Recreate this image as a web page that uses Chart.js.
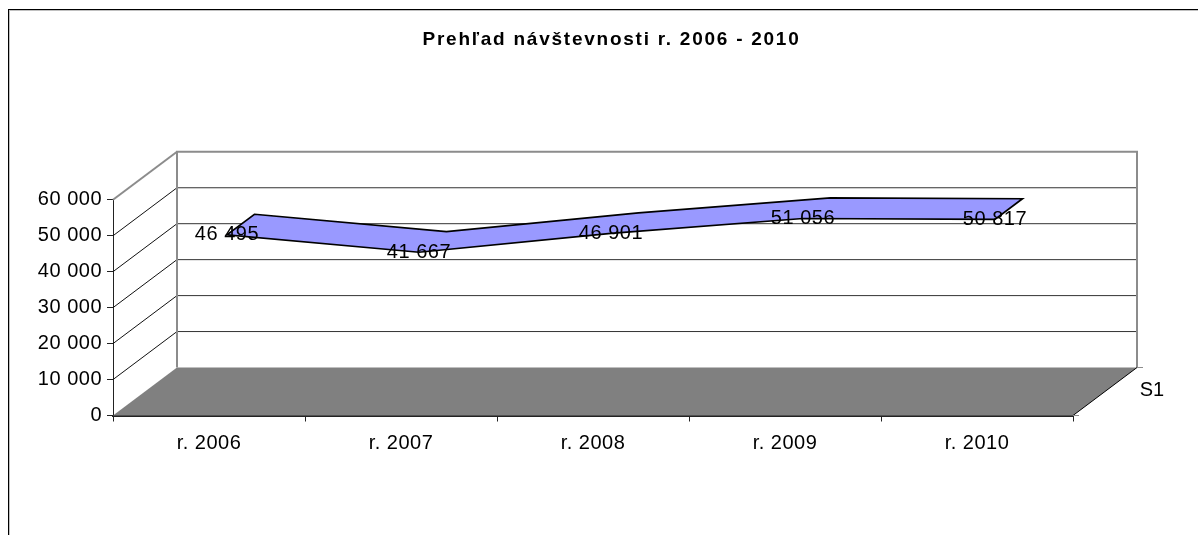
<!DOCTYPE html>
<html><head><meta charset="utf-8">
<style>html,body{margin:0;padding:0;background:#fff}canvas{display:block}</style>
<script src="https://cdn.jsdelivr.net/npm/chart.js@4/dist/chart.umd.min.js"></script>
</head><body><canvas id="c" width="1198" height="535"></canvas>
<script>
const titleText = "Prehľad návštevnosti r. 2006 - 2010";
const categories = ["r. 2006", "r. 2007", "r. 2008", "r. 2009", "r. 2010"];
const seriesName = "S1";
const visits = [46495, 41667, 46901, 51056, 50817];
const FONT = '"Liberation Sans", Arial, sans-serif';
const fmt = v => String(v).replace(/\B(?=(\d{3})+$)/g, " ");
// 3D projection of the depth axis, in pixels, and the ribbon's place in that depth
const DEPTH = {dx: 64, dy: -48};
const RIBBON = {front: 0.28, back: 0.71};

const spaced = (obj, method, sp, shift) => {
  const orig = obj[method];
  obj[method] = function (...a) {
    const ctx = this.ctx; ctx.save(); ctx.letterSpacing = sp;
    if (shift) ctx.translate(shift, 0);
    orig.apply(this, a); ctx.restore();
  };
};

const frame3d = {
  id: "frame3d",
  afterLayout(chart) {
    if (chart.$wrapped) return; chart.$wrapped = true;
    spaced(chart.titleBlock, "draw", "1.75px", 75);
    spaced(chart.scales.x, "drawLabels", "0.5px");
    spaced(chart.scales.y, "drawLabels", "0.5px");
  },
  beforeDraw(chart) {
    const c = chart.ctx;
    c.save();
    c.fillStyle = "#fff"; c.fillRect(0, 0, chart.width, chart.height);
    c.fillStyle = "#c0c0c0"; c.fillRect(9, 10, chart.width - 9, 1); c.fillRect(9, 10, 1, chart.height - 10);
    c.fillStyle = "#000"; c.fillRect(8, 9, chart.width - 8, 1); c.fillRect(8, 9, 1, chart.height - 9);
    c.restore();
  },
  beforeDatasetsDraw(chart) {
    const c = chart.ctx, {x, y} = chart.scales, a = chart.chartArea;
    const {dx, dy} = DEPTH;
    const L = a.left, R = a.right, B = a.bottom, T = a.top;
    c.save();
    // floor
    c.fillStyle = "#808080";
    c.beginPath(); c.moveTo(L, B); c.lineTo(L + dx, B + dy); c.lineTo(R + dx, B + dy); c.lineTo(R, B); c.closePath(); c.fill();
    // gridlines on back wall and side wall
    y.ticks.forEach((t, i) => {
      const py = y.getPixelForValue(t.value);
      if (t.value === 0) return;
      const top = t.value === y.max;
      c.strokeStyle = top ? "#8c8c8c" : "#111"; c.lineWidth = top ? 2 : 1;
      c.beginPath(); c.moveTo(L, py); c.lineTo(L + dx, py + dy); c.stroke();
      if (!top) { c.strokeStyle = "#333"; c.beginPath(); c.moveTo(L + dx, py + dy); c.lineTo(R + dx, py + dy); c.stroke(); }
    });
    // back wall frame
    c.strokeStyle = "#8c8c8c"; c.lineWidth = 2;
    c.beginPath(); c.moveTo(L + dx, B + dy); c.lineTo(L + dx, T + dy); c.lineTo(R + dx, T + dy); c.lineTo(R + dx, B + dy); c.stroke();
    // floor right edge and depth-axis ticks
    c.lineWidth = 1; c.strokeStyle = "#000";
    c.beginPath(); c.moveTo(R, B); c.lineTo(R + dx, B + dy); c.stroke();
    c.strokeStyle = "#8c8c8c";
    c.beginPath(); c.moveTo(R + dx, B + dy); c.lineTo(R + dx + 6, B + dy); c.moveTo(R, B); c.lineTo(R + 6, B); c.stroke();
    c.fillStyle = "#000"; c.font = "20px " + FONT; c.textAlign = "center"; c.textBaseline = "middle";
    c.fillText(seriesName, R + dx + 15, B + dy + 23);
    // ribbon built from the line's own points
    const pts = chart.getDatasetMeta(0).data;
    c.beginPath();
    pts.forEach((p, i) => { const X = p.x + dx * RIBBON.back, Y = p.y + dy * RIBBON.back; i ? c.lineTo(X, Y) : c.moveTo(X, Y); });
    [...pts].reverse().forEach(p => c.lineTo(p.x + dx * RIBBON.front, p.y + dy * RIBBON.front));
    c.closePath();
    c.fillStyle = "#9999FF"; c.fill();
    c.strokeStyle = "#000"; c.lineWidth = 1.7; c.lineJoin = "miter"; c.stroke();
    c.restore();
  },
  afterDatasetsDraw(chart) {
    const c = chart.ctx, {dx, dy} = DEPTH;
    c.save();
    c.fillStyle = "#000"; c.font = "20px " + FONT; c.textAlign = "center"; c.textBaseline = "middle";
    c.letterSpacing = "0.5px";
    chart.getDatasetMeta(0).data.forEach((p, i) => {
      c.fillText(fmt(visits[i]), p.x + dx * RIBBON.front, p.y + dy * RIBBON.front);
    });
    c.restore();
  }
};

new Chart(document.getElementById("c"), {
  type: "line",
  data: { labels: categories, datasets: [{ label: seriesName, data: visits, borderWidth: 0, borderColor: "rgba(0,0,0,0)", pointRadius: 0, pointHoverRadius: 0, fill: false, tension: 0 }] },
  options: {
    responsive: false, animation: false, events: [],
    layout: { padding: { left: 0, right: 125, top: 0, bottom: 0 } },
    plugins: {
      legend: { display: false }, tooltip: { enabled: false },
      title: { display: true, text: titleText, color: "#000", font: { family: FONT, size: 19, weight: "bold" }, padding: { top: 28.5, bottom: 148.5 } }
    },
    scales: {
      x: {
        offset: true,
        grid: { offset: true, drawOnChartArea: false, drawTicks: true, tickLength: 6, color: "#222" },
        border: { color: "#222", width: 2 },
        ticks: { color: "#000", padding: 10, maxRotation: 0, font: { family: FONT, size: 20 } },
        afterFit(s) { s.height = 119.5; }
      },
      y: {
        min: 0, max: 60000,
        grid: { drawOnChartArea: false, drawTicks: true, tickLength: 6, color: "#222" },
        border: { color: "#222", width: 1 },
        ticks: { stepSize: 10000, color: "#000", padding: 5, font: { family: FONT, size: 20 }, callback: v => fmt(v) },
        afterFit(s) { s.width = 113; }
      }
    }
  },
  plugins: [frame3d]
});
</script></body></html>
